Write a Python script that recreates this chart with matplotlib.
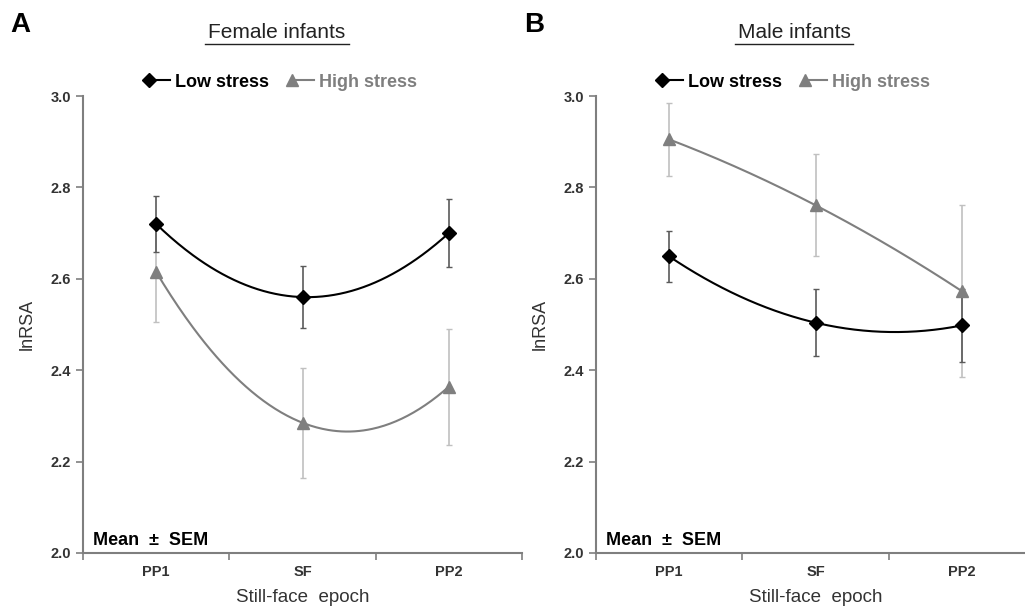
import numpy as np
import matplotlib
matplotlib.use("Agg")
import matplotlib.pyplot as plt
from matplotlib.legend_handler import HandlerLine2D

plt.rcParams['font.family'] = ['Liberation Sans', 'DejaVu Sans']

epochs = ["PP1", "SF", "PP2"]

# Female infants
female_low = [2.72, 2.56, 2.70]
female_low_sem = [0.061, 0.068, 0.075]
female_high = [2.615, 2.285, 2.364]
female_high_sem = [0.11, 0.12, 0.127]

# Male infants
male_low = [2.649, 2.504, 2.498]
male_low_sem = [0.056, 0.073, 0.08]
male_high = [2.905, 2.761, 2.573]
male_high_sem = [0.08, 0.112, 0.188]

LOW_C = "black"
HIGH_C = "#7f7f7f"
AXIS_C = "#7f7f7f"
TEXT_C = "#333333"


class MarkerFirst(HandlerLine2D):
    """Legend handle with the marker on the left end of the line stub."""
    def create_artists(self, *args, **kwargs):
        artists = super().create_artists(*args, **kwargs)
        for a in artists:
            a.set_markevery([0])
        return artists


def smooth(y):
    """Smooth curve through the three epoch means (like Excel's smoothed line)."""
    x = np.arange(len(y))
    coef = np.polyfit(x, y, 2)
    xs = np.linspace(0, len(y) - 1, 200)
    return xs, np.polyval(coef, xs)


def panel(ax, low, low_sem, high, high_sem):
    x = np.arange(len(epochs))
    ax.errorbar(x, high, yerr=high_sem, fmt='none', ecolor="#c0c0c0",
                elinewidth=1.2, capsize=2.5, capthick=1.0, zorder=1)
    ax.errorbar(x, low, yerr=low_sem, fmt='none', ecolor="#5a5a5a",
                elinewidth=1.2, capsize=2.5, capthick=1.0, zorder=2)
    xs, ys = smooth(high)
    ax.plot(xs, ys, color=HIGH_C, lw=1.5, zorder=3)
    xs, ys = smooth(low)
    ax.plot(xs, ys, color=LOW_C, lw=1.5, zorder=4)
    ax.plot(x, high, '^', color=HIGH_C, ms=9, zorder=5)
    ax.plot(x, low, 'D', color=LOW_C, ms=7.5, zorder=6)

    # legend handles
    h1, = ax.plot([], [], '-D', color=LOW_C, ms=7.5, lw=1.5)
    h2, = ax.plot([], [], '-^', color=HIGH_C, ms=9, lw=1.5)
    leg = ax.legend([h1, h2], ["Low stress", "High stress"], ncol=2,
                    loc='center', bbox_to_anchor=(0.455, 1.03), frameon=False,
                    handlelength=1.2, handletextpad=0.25, columnspacing=1.3,
                    numpoints=1, handler_map={h1: MarkerFirst(), h2: MarkerFirst()},
                    prop={'size': 13, 'weight': 'bold'})
    for t, c in zip(leg.get_texts(), [LOW_C, HIGH_C]):
        t.set_color(c)

    ax.set_xlim(-0.5, 2.5)
    ax.set_ylim(2.0, 3.0)
    ax.set_yticks([2.0, 2.2, 2.4, 2.6, 2.8, 3.0])
    ax.set_yticklabels(["2.0", "2.2", "2.4", "2.6", "2.8", "3.0"])
    ax.set_xticks([-0.5, 0.5, 1.5, 2.5])
    ax.set_xticklabels([])
    ax.set_xticks(x, minor=True)
    ax.set_xticklabels(epochs, minor=True)
    ax.tick_params(axis='x', which='minor', length=0, pad=9)
    ax.tick_params(axis='both', which='major', length=5, width=1.2,
                   color=AXIS_C, direction='out')
    for lab in ax.get_yticklabels() + ax.get_xticklabels(minor=True):
        lab.set_fontsize(10.5)
        lab.set_fontweight('bold')
        lab.set_color(TEXT_C)
    for s in ['top', 'right']:
        ax.spines[s].set_visible(False)
    for s in ['left', 'bottom']:
        ax.spines[s].set_color(AXIS_C)
        ax.spines[s].set_linewidth(1.5)
    ax.set_xlabel("Still-face  epoch", fontsize=13.5, color=TEXT_C, labelpad=7)
    ax.set_ylabel("lnRSA", fontsize=13, color=TEXT_C, labelpad=11)
    ax.text(0.022, 0.008, "Mean  \u00b1  SEM", transform=ax.transAxes,
            fontsize=13, fontweight='bold', ha='left', va='bottom')


fig = plt.figure(figsize=(10.25, 6.1), dpi=100)
ax1 = fig.add_axes([83 / 1025, 57 / 610, 439 / 1025, 457 / 610])
ax2 = fig.add_axes([596 / 1025, 57 / 610, 439 / 1025, 457 / 610])

panel(ax1, female_low, female_low_sem, female_high, female_high_sem)
panel(ax2, male_low, male_low_sem, male_high, male_high_sem)

fig.text(10 / 1025, 1 - 25 / 610, "A", fontsize=20, fontweight='bold', va='center')
fig.text(524 / 1025, 1 - 25 / 610, "B", fontsize=20, fontweight='bold', va='center')
fig.text(277 / 1025, 1 - 33 / 610, "Female infants", fontsize=15, ha='center',
         va='center', color="#222222")
fig.text(794 / 1025, 1 - 33 / 610, "Male infants", fontsize=15, ha='center',
         va='center', color="#222222")
# underlines under the titles
fig.add_artist(plt.Line2D([205 / 1025, 349 / 1025], [1 - 44 / 610] * 2,
                          color="#222222", lw=1.0))
fig.add_artist(plt.Line2D([735 / 1025, 853 / 1025], [1 - 44 / 610] * 2,
                          color="#222222", lw=1.0))

fig.savefig("out.png", dpi=100)
